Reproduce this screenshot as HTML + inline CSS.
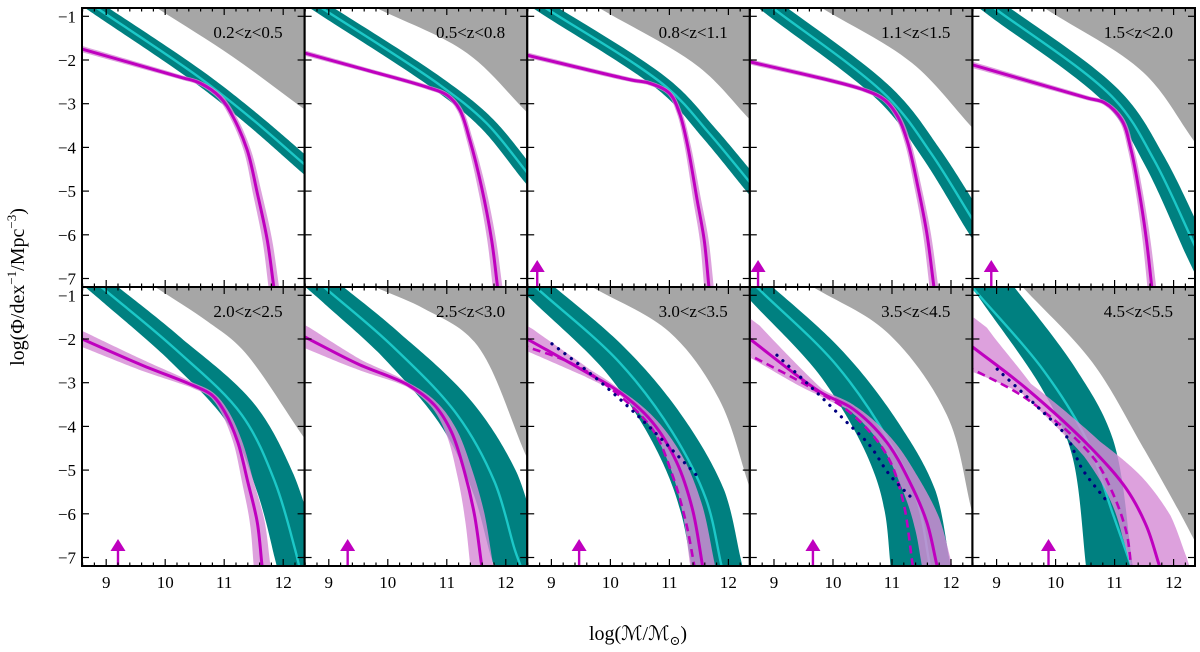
<!DOCTYPE html>
<html><head><meta charset="utf-8">
<style>
html,body{margin:0;padding:0;background:#fff;}
svg{display:block;}
text{font-family:"Liberation Serif","DejaVu Serif",serif;fill:#000;}
</style></head>
<body>
<svg id="chart" width="1200" height="652" viewBox="0 0 1200 652" xmlns="http://www.w3.org/2000/svg">
<rect x="0" y="0" width="1200" height="652" fill="#fff"/>
<text transform="translate(24,287) rotate(-90)" text-anchor="middle" font-size="20">log(Φ/dex<tspan font-size="13" dy="-8">−1</tspan><tspan dy="8">/Mpc</tspan><tspan font-size="13" dy="-8">−3</tspan><tspan dy="8">)</tspan></text>
<text x="638" y="640" text-anchor="middle" font-size="20">log(ℳ/ℳ<tspan font-size="13" dy="5">⊙</tspan><tspan dy="-5">)</tspan></text>
</svg>
<script>
// ---- data ----
const zLabels = ["0.2<z<0.5","0.5<z<0.8","0.8<z<1.1","1.1<z<1.5","1.5<z<2.0","2.0<z<2.5","2.5<z<3.0","3.0<z<3.5","3.5<z<4.5","4.5<z<5.5"];
const magX = [
[8.59,10.25,10.59,10.93,11.15,11.39,11.56,11.73,11.84],
[8.59,9.64,10.66,11.0,11.22,11.39,11.59,11.76,11.86],
[8.59,10.37,10.66,11.0,11.17,11.30,11.47,11.59,11.67],
[8.59,10.54,10.88,11.10,11.27,11.44,11.59,11.71],
[8.59,10.54,10.83,11.12,11.28,11.42,11.54,11.63],
[8.59,9.61,10.45,10.79,11.01,11.23,11.40,11.56,11.64],
[8.59,9.49,10.34,10.79,11.08,11.30,11.47,11.59],
[8.59,9.59,10.15,10.71,11.12,11.39,11.56],
[8.59,9.78,10.34,10.91,11.30,11.59,11.76],
[8.59,9.51,10.62,11.20,11.54,11.76]];
const magY = [
[-1.75,-2.39,-2.53,-2.85,-3.30,-4.06,-5.04,-6.12,-7.19],
[-1.84,-2.23,-2.62,-2.80,-3.14,-3.83,-4.91,-6.12,-7.19],
[-1.89,-2.46,-2.53,-2.76,-3.21,-3.90,-5.2,-6.12,-7.19],
[-2.04,-2.69,-2.92,-3.30,-3.90,-4.91,-5.96,-7.19],
[-2.11,-2.87,-2.98,-3.37,-4.06,-5.04,-6.12,-7.19],
[-2.0,-2.60,-3.05,-3.28,-3.67,-4.36,-5.27,-6.19,-7.17],
[-1.95,-2.57,-3.05,-3.51,-4.13,-5.04,-6.03,-7.17],
[-2.0,-2.76,-3.21,-3.90,-4.81,-5.89,-7.17],
[-2.0,-3.21,-3.60,-4.36,-5.27,-6.19,-7.17],
[-2.18,-3.14,-4.52,-5.43,-6.28,-7.19]];
const magErr = [
[0.07,0.05,0.05,0.06,0.07,0.08,0.10,0.11,0.12],
[0.06,0.05,0.05,0.05,0.06,0.07,0.09,0.10,0.11],
[0.06,0.05,0.05,0.05,0.06,0.07,0.09,0.10,0.11],
[0.06,0.05,0.05,0.06,0.07,0.08,0.09,0.10],
[0.07,0.05,0.05,0.06,0.07,0.08,0.09,0.10],
[0.17,0.12,0.06,0.06,0.08,0.10,0.13,0.17,0.19],
[0.24,0.12,0.05,0.08,0.13,0.18,0.23,0.26],
[0.26,0.10,0.05,0.10,0.18,0.24,0.28],
[0.38,0.08,0.08,0.14,0.22,0.30,0.34],
[0.55,0.15,0.25,0.45,0.60,0.65]];
const dashX = [null,null,null,null,null,null,null,
[8.59,9.30,9.86,10.71,11.05,11.28,11.42],
[8.59,9.66,10.34,10.91,11.18,11.35],
[8.59,9.51,10.62,10.96,11.20,11.28]];
const dashY = [null,null,null,null,null,null,null,
[-2.18,-2.53,-2.98,-4.06,-5.11,-6.19,-7.17],
[-2.37,-3.14,-3.74,-4.65,-5.66,-7.17],
[-2.69,-3.37,-4.68,-5.50,-6.42,-7.19]];
const dotX = [null,null,null,null,null,null,null,
[9.01,9.67,10.27,10.83,11.54],
[9.05,9.66,10.23,10.62,10.96,11.35],
[9.01,9.73,10.18,10.45,10.86]];
const dotY = [null,null,null,null,null,null,null,
[-2.11,-2.80,-3.51,-4.24,-5.23],
[-2.37,-3.14,-3.90,-4.43,-5.11,-5.66],
[-2.69,-3.60,-4.22,-4.97,-5.70]];
const cyanX = [
[8.84,10.59,11.49,12.37],
[8.88,10.88,11.67,12.37],
[8.90,10.95,11.67,12.37],
[8.98,10.93,11.67,12.37],
[8.96,11.0,11.67,12.37],
[8.98,10.17,11.30,11.86,12.2,12.27],
[8.98,10.06,11.18,11.81,12.15,12.25],
[8.79,10.15,11.05,11.62,11.88],
[8.76,10.06,10.96,11.42,11.64],
[8.66,9.78,10.52,10.96,11.28]];
const cyanY = [
[-0.81,-2.41,-3.37,-4.40],
[-0.81,-2.57,-3.44,-4.59],
[-0.81,-2.62,-3.67,-4.81],
[-0.81,-2.85,-4.15,-5.66],
[-0.81,-2.90,-4.29,-6.28],
[-0.88,-2.23,-3.74,-5.27,-6.81,-7.19],
[-0.88,-2.14,-3.74,-5.27,-6.81,-7.19],
[-0.88,-2.53,-4.13,-5.66,-7.17],
[-0.88,-2.60,-4.36,-5.66,-7.17],
[-0.93,-2.69,-4.29,-5.96,-7.19]];
const tealX = [
[8.84,10.59,11.49,12.37],
[8.88,10.88,11.67,12.37],
[8.90,10.95,11.67,12.37],
[8.98,10.93,11.67,12.37],
[8.96,11.0,11.67,12.37],
[8.98,10.17,11.30,11.86,12.2,12.27],
[8.98,10.06,11.18,11.81,12.15,12.25],
[8.79,10.12,11.0,11.55,11.80],
[8.72,10.0,10.88,11.30,11.48],
[8.93,10.06,10.62,10.91]];
const tealY = [
[-0.81,-2.41,-3.37,-4.40],
[-0.81,-2.57,-3.44,-4.59],
[-0.81,-2.62,-3.67,-4.81],
[-0.81,-2.85,-4.15,-5.66],
[-0.81,-2.90,-4.29,-6.28],
[-0.88,-2.23,-3.74,-5.27,-6.81,-7.19],
[-0.88,-2.14,-3.74,-5.27,-6.81,-7.19],
[-0.88,-2.53,-4.13,-5.66,-7.17],
[-0.88,-2.60,-4.36,-5.66,-7.17],
[-0.81,-2.92,-4.45,-7.19]];
const tealErr = [
[0.15,0.16,0.17,0.18],
[0.15,0.16,0.17,0.18],
[0.16,0.17,0.18,0.19],
[0.20,0.21,0.22,0.24],
[0.21,0.22,0.24,0.27],
[0.24,0.28,0.38,0.46,0.50,0.50],
[0.28,0.33,0.45,0.55,0.57,0.57],
[0.28,0.35,0.45,0.55,0.57],
[0.28,0.38,0.50,0.62,0.68],
[0.39,0.45,0.50,0.53]];
const grayX = [
[9.86,11.15,12.37],
[9.81,11.34,12.37],
[9.81,11.5,12.37],
[9.81,11.34,12.37],
[9.81,11.5,12.37],
[9.83,10.73,11.30,12.37],
[9.78,10.62,11.47,12.37],
[9.69,11.0,11.84,12.37],
[9.66,10.91,11.93,12.37],
[9.44,10.62,11.47,12.10,12.37]];
const grayY = [
[-0.81,-1.93,-3.14],
[-0.81,-1.84,-3.21],
[-0.81,-2.16,-3.37],
[-0.81,-2.07,-3.56],
[-0.81,-2.30,-3.90],
[-0.81,-1.61,-2.23,-4.29],
[-0.81,-1.31,-2.07,-4.75],
[-0.81,-1.84,-3.37,-5.43],
[-0.81,-1.84,-3.74,-6.03],
[-0.81,-2.53,-4.45,-5.96,-6.65]];
const arrowX = [null,null,8.76,8.73,8.91,9.2,9.32,9.47,9.66,9.88];
const xTicks = [9,10,11,12];
const yTicks = [-1,-2,-3,-4,-5,-6,-7];

// ---- geometry ----
const NS = "http://www.w3.org/2000/svg";
const svg = document.getElementById("chart");
const L0 = 82, PW = 222.6, TOPS = [8, 287], PH = 279;
const XMIN = 8.59, SX = 59, YMAX = -0.81, SY = 43.7;
const XMAX = XMIN + PW / SX;
function xs(p, x) { return L0 + (p % 5) * PW + (x - XMIN) * SX; }
function ys(p, y) { return TOPS[Math.floor(p / 5)] + (YMAX - y) * SY; }
function mk(tag, attrs, parent) {
  const e = document.createElementNS(NS, tag);
  for (const k in attrs) e.setAttribute(k, attrs[k]);
  parent.appendChild(e);
  return e;
}
function pts(p, X, Y) { return X.map((x, i) => [xs(p, x), ys(p, Y[i])]); }
function extend(P, len) {
  const n = P.length;
  const a = P[0], b = P[1], c = P[n - 1], d = P[n - 2];
  const l1 = Math.hypot(a[0] - b[0], a[1] - b[1]) || 1;
  const l2 = Math.hypot(c[0] - d[0], c[1] - d[1]) || 1;
  return [[a[0] + (a[0] - b[0]) / l1 * len, a[1] + (a[1] - b[1]) / l1 * len]]
    .concat(P, [[c[0] + (c[0] - d[0]) / l2 * len, c[1] + (c[1] - d[1]) / l2 * len]]);
}
function dist(a, b) { return Math.hypot(a[0] - b[0], a[1] - b[1]); }
// centripetal Catmull-Rom -> cubic Bezier controls
function ctrl(P, i) {
  const p1 = P[i], p2 = P[i + 1];
  const p0 = i > 0 ? P[i - 1] : [2 * p1[0] - p2[0], 2 * p1[1] - p2[1]];
  const p3 = i + 2 < P.length ? P[i + 2] : [2 * p2[0] - p1[0], 2 * p2[1] - p1[1]];
  const d1 = Math.max(Math.sqrt(dist(p0, p1)), 1e-3);
  const d2 = Math.max(Math.sqrt(dist(p1, p2)), 1e-3);
  const d3 = Math.max(Math.sqrt(dist(p2, p3)), 1e-3);
  const c1 = [0, 1].map(k => (d1 * d1 * p2[k] - d2 * d2 * p0[k] + (2 * d1 * d1 + 3 * d1 * d2 + d2 * d2) * p1[k]) / (3 * d1 * (d1 + d2)));
  const c2 = [0, 1].map(k => (d3 * d3 * p1[k] - d2 * d2 * p3[k] + (2 * d3 * d3 + 3 * d3 * d2 + d2 * d2) * p2[k]) / (3 * d3 * (d3 + d2)));
  return [p1, c1, c2, p2];
}
function crPath(P) {
  let d = "M" + P[0][0].toFixed(2) + "," + P[0][1].toFixed(2);
  for (let i = 0; i < P.length - 1; i++) {
    const c = ctrl(P, i);
    d += "C" + c[1].map(v => v.toFixed(2)) + " " + c[2].map(v => v.toFixed(2)) + " " + c[3].map(v => v.toFixed(2));
  }
  return d;
}
function sampleBand(P, E) {
  const S = [], SE = [];
  for (let i = 0; i < P.length - 1; i++) {
    const c = ctrl(P, i);
    for (let k = 0; k < 30; k++) {
      const t = k / 30, u = 1 - t;
      S.push([u*u*u*c[0][0] + 3*u*u*t*c[1][0] + 3*u*t*t*c[2][0] + t*t*t*c[3][0],
              u*u*u*c[0][1] + 3*u*u*t*c[1][1] + 3*u*t*t*c[2][1] + t*t*t*c[3][1]]);
      SE.push(E[i] * u + E[i + 1] * t);
    }
  }
  S.push(P[P.length - 1]); SE.push(E[E.length - 1]);
  const up = [], lo = [];
  for (let k = 0; k < S.length; k++) {
    const a = S[Math.max(k - 2, 0)], b = S[Math.min(k + 2, S.length - 1)];
    const tx = b[0] - a[0], ty = b[1] - a[1], l = Math.hypot(tx, ty) || 1;
    const nx = -ty / l, ny = tx / l, w = SE[k] * SY;
    up.push([S[k][0] + nx * w, S[k][1] + ny * w]);
    lo.push([S[k][0] - nx * w, S[k][1] - ny * w]);
  }
  const all = up.concat(lo.reverse());
  return "M" + all.map(q => q[0].toFixed(2) + "," + q[1].toFixed(2)).join("L") + "Z";
}
function bandPath(p, X, Y, E) {
  const P = extend(pts(p, X, Y), 40);
  const EE = [E[0]].concat(E, [E[E.length - 1]]);
  return sampleBand(P, EE);
}

const defs = mk("defs", {}, svg);
for (let p = 0; p < 10; p++) {
  const left = L0 + (p % 5) * PW, top = TOPS[Math.floor(p / 5)];
  const cp = mk("clipPath", { id: "clip" + p }, defs);
  mk("rect", { x: left, y: top, width: PW, height: PH }, cp);

  const g = mk("g", { "clip-path": "url(#clip" + p + ")" }, svg);
  
  

  const GP = pts(p, grayX[p], grayY[p]);
  let gd = crPath(GP);
  const last = GP[GP.length - 1], first = GP[0];
  gd += "L" + (left + PW + 20) + "," + last[1] + "L" + (left + PW + 20) + "," + (top - 20) + "L" + first[0] + "," + (top - 20) + "Z";
  const gr = mk("path", { d: gd, fill: "#a6a6a6" }, g);
  
  

  const tb = mk("path", { d: bandPath(p, tealX[p], tealY[p], tealErr[p]), fill: "#008080" }, g);
  
  

  const cl = mk("path", { d: crPath(extend(pts(p, cyanX[p], cyanY[p]), 40)), fill: "none", stroke: "#1cc8c8", "stroke-width": 2.4 }, g);
  
  

  const mb = mk("path", { d: bandPath(p, magX[p], magY[p], magErr[p]), fill: "#d68cd6", "fill-opacity": 0.82 }, g);
  
  

  const ml = mk("path", { d: crPath(extend(pts(p, magX[p], magY[p]), 40)), fill: "none", stroke: "#bf00bf", "stroke-width": 3 }, g);
  
  

  if (dashX[p]) {
    const dl = mk("path", { d: crPath(extend(pts(p, dashX[p], dashY[p]), 20)), fill: "none", stroke: "#bf00bf", "stroke-width": 2.6, "stroke-dasharray": "8,5" }, g);
    
    
  }
  if (dotX[p]) {
    const ol = mk("path", { d: crPath(pts(p, dotX[p], dotY[p])), fill: "none", stroke: "#000080", "stroke-width": 3.2, "stroke-dasharray": "0.1,8", "stroke-linecap": "round" }, g);
    
    
  }
  if (arrowX[p] !== null) {
    const ax = xs(p, arrowX[p]), bot = top + PH;
    const ag = mk("g", {}, g);
    
    
    mk("line", { x1: ax, y1: bot, x2: ax, y2: bot - 16, stroke: "#bf00bf", "stroke-width": 2.4 }, ag);
    mk("polygon", { points: (ax - 7.5) + "," + (bot - 15) + " " + (ax + 7.5) + "," + (bot - 15) + " " + ax + "," + (bot - 27), fill: "#bf00bf" }, ag);
  }

  const tg = mk("g", { stroke: "#000", "stroke-width": 1.2 }, svg);
  
  
  for (let v = 8.6; v < XMAX; v += 0.2) {
    const vv = Math.round(v * 10) / 10;
    const major = Math.abs(vv - Math.round(vv)) < 1e-6;
    const len = major ? 7 : 3.5, x = xs(p, vv);
    mk("line", { x1: x, y1: top + PH, x2: x, y2: top + PH - len }, tg);
    mk("line", { x1: x, y1: top, x2: x, y2: top + len }, tg);
  }
  yTicks.forEach(v => {
    const y = ys(p, v);
    mk("line", { x1: left, y1: y, x2: left + 7, y2: y }, tg);
    mk("line", { x1: left + PW, y1: y, x2: left + PW - 7, y2: y }, tg);
  });

  const fr = mk("rect", { x: left, y: top, width: PW, height: PH, fill: "none", stroke: "#000", "stroke-width": 2 }, svg);
  
  

  const lb = mk("text", { x: left + PW - 22, y: top + 30, "text-anchor": "end", "font-size": 17 }, svg);
  lb.textContent = zLabels[p];
  
  

  if (p % 5 === 0) {
    yTicks.forEach(v => {
      const t = mk("text", { x: left - 6, y: ys(p, v) + 6, "text-anchor": "end", "font-size": 17 }, svg);
      t.textContent = "−" + Math.abs(v);
      
      
    });
  }
  if (p >= 5) {
    xTicks.forEach(v => {
      const t = mk("text", { x: xs(p, v), y: top + PH + 22, "text-anchor": "middle", "font-size": 17 }, svg);
      t.textContent = String(v);
      
      
    });
  }
}
</script>
</body></html>
